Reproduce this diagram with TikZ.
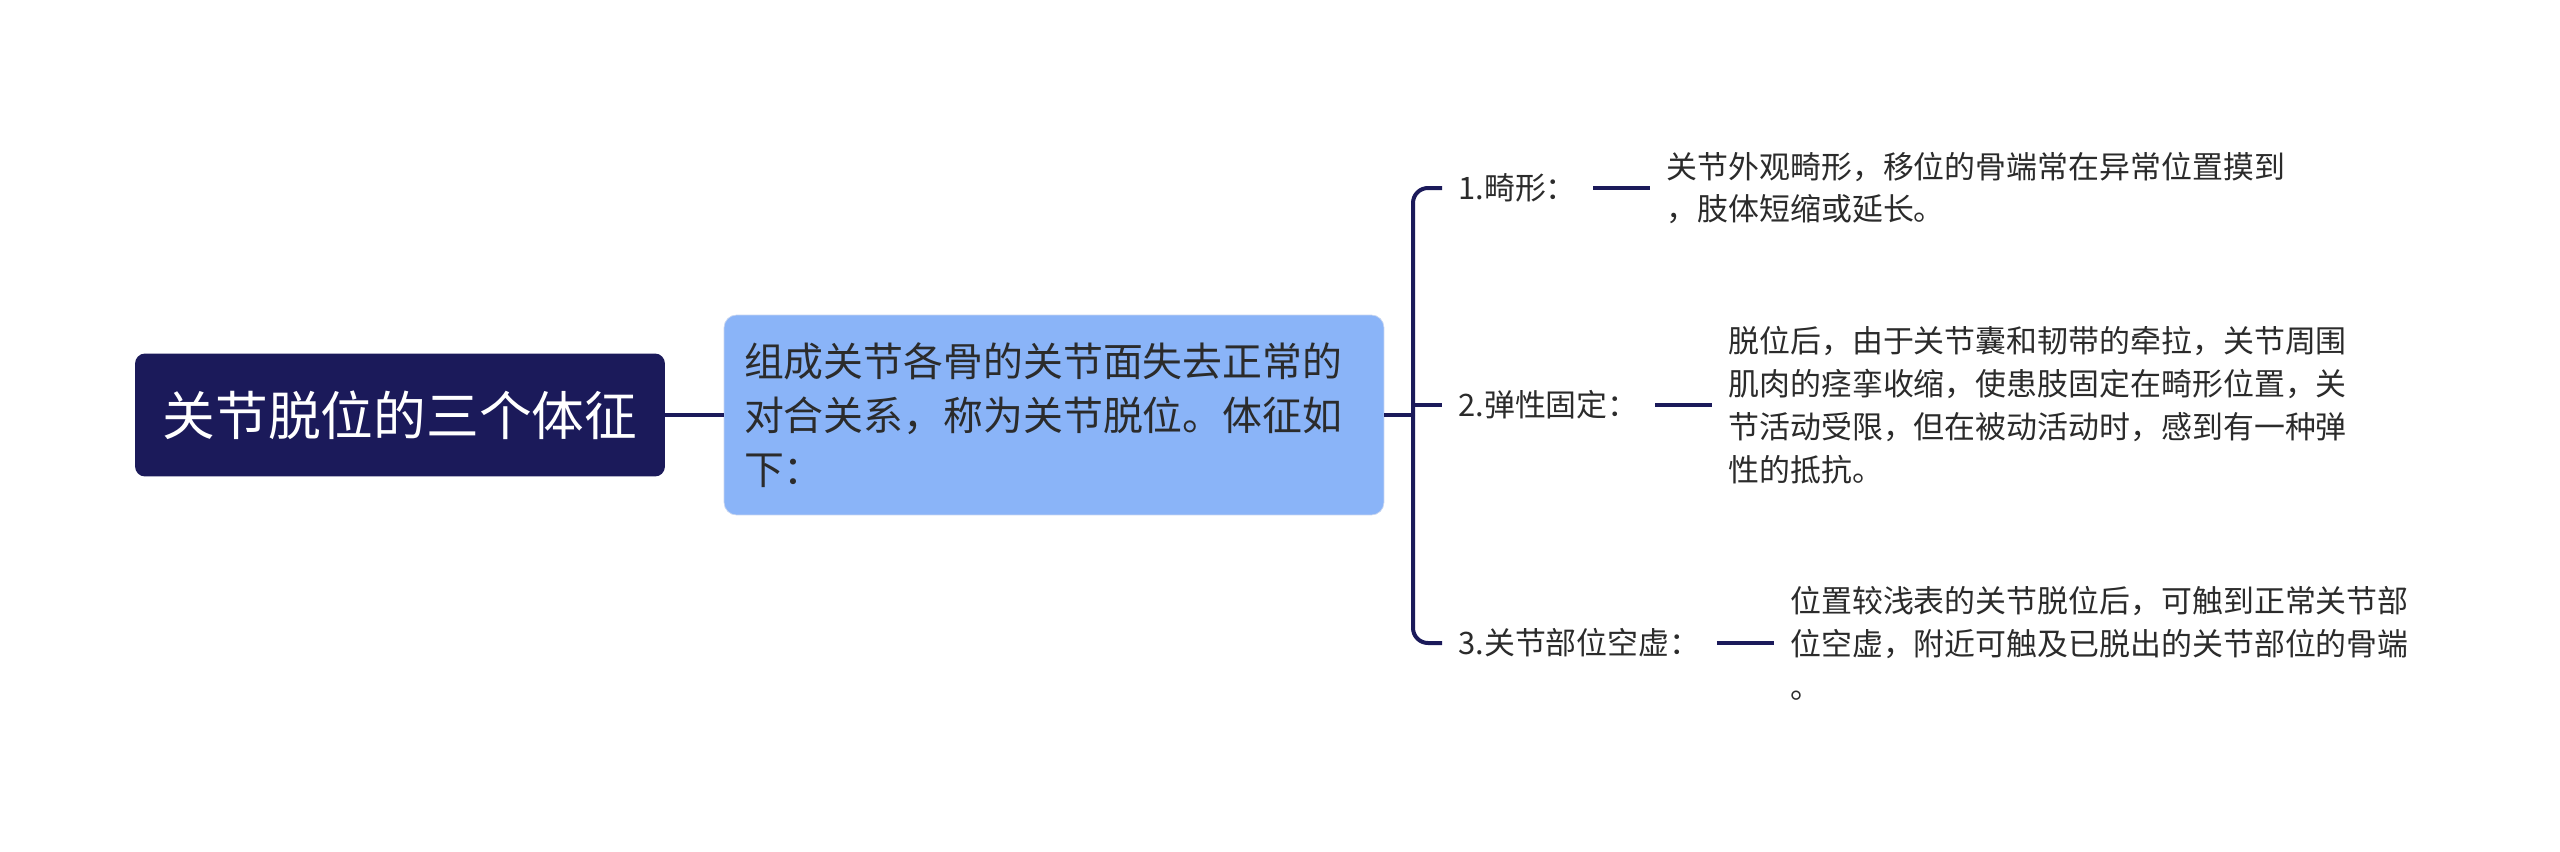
\documentclass[tikz,border=0pt]{standalone}
\usepackage{fontspec}
\setmainfont{Noto Sans CJK SC}
\usepackage{xcolor}
\usepackage{tikz}
\usetikzlibrary{positioning}

\definecolor{navy}{HTML}{1B1A5A}
\definecolor{skyblue}{HTML}{8AB4F8}
\definecolor{inktext}{HTML}{2B2B2B}

\begin{document}
\begin{tikzpicture}[
    x=0.02cm, y=-0.02cm,
    root/.style={rectangle, fill=navy, text=white, rounded corners=0.2cm, minimum width=10.6cm, minimum height=2.46cm, font=\fontsize{30}{36}\selectfont},
    mainbox/.style={rectangle, fill=skyblue, draw=skyblue!80!navy!40, text=inktext, rounded corners=0.25cm, text width=12.4cm, inner xsep=0.4cm, minimum height=4cm, align=left, font=\fontsize{22.7}{30.7}\selectfont},
    sign/.style={inner sep=0, text=inktext, font=\fontsize{17.6}{24.4}\selectfont},
    detail/.style={inner sep=0, text=inktext, align=left, font=\fontsize{17.6}{24.4}\selectfont},
    conn/.style={draw=navy, line width=0.08cm},
    dashlink/.style={conn, shorten <=0.32cm, shorten >=0.32cm}
]

\useasboundingbox (0,0) rectangle (2560,852);

% Root
\node[root] (root) at (400,415) {关节脱位的三个体征};

% Definition
\node[mainbox] (defn) at (1054,415) {组成关节各骨的关节面失去正常的\\对合关系，称为关节脱位。体征如\\下：};

% Signs
\coordinate (hub) at (1413,415);
\node[sign, anchor=west] (sign1) at (1458,188) {1.畸形：};
\node[sign, anchor=west] (sign2) at (1458,405) {2.弹性固定：};
\node[sign, anchor=west] (sign3) at (1458,643) {3.关节部位空虚：};

% Details
\node[detail, right=1.78cm of sign1] (detail1) {关节外观畸形，移位的骨端常在异常位置摸到\\，肢体短缩或延长。};
\node[detail, right=1.78cm of sign2] (detail2) {脱位后，由于关节囊和韧带的牵拉，关节周围\\肌肉的痉挛收缩，使患肢固定在畸形位置，关\\节活动受限，但在被动活动时，感到有一种弹\\性的抵抗。};
\node[detail, right=1.78cm of sign3] (detail3) {位置较浅表的关节脱位后，可触到正常关节部\\位空虚，附近可触及已脱出的关节部位的骨端\\。};

% Connectors
\draw[conn] (root.east) -- (defn.west);
\draw[conn] (defn.east) -- (hub);
\draw[conn, rounded corners=0.3cm, shorten >=0.32cm] (hub) |- (sign1.west);
\draw[conn, rounded corners=0.3cm, shorten >=0.32cm] (hub) |- (sign3.west);
\draw[conn, shorten >=0.32cm] (hub |- sign2.west) -- (sign2.west);
\draw[dashlink] (sign1) -- (detail1);
\draw[dashlink] (sign2) -- (detail2);
\draw[dashlink] (sign3) -- (detail3);

\end{tikzpicture}
\end{document}
